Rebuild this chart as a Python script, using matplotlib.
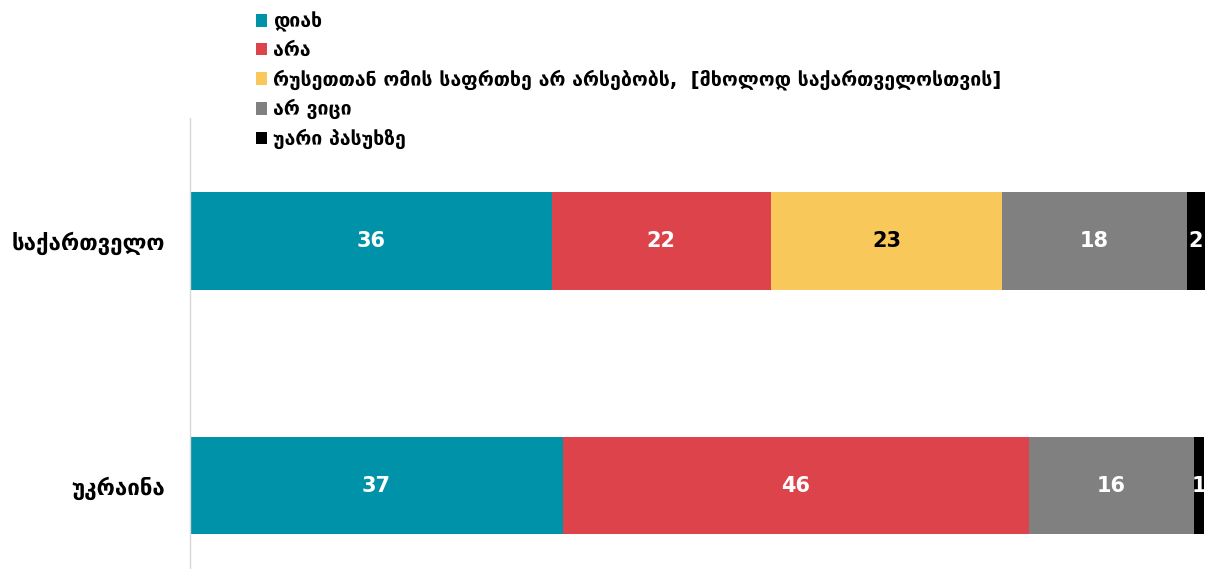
import matplotlib
matplotlib.use("Agg")
import matplotlib.pyplot as plt
import numpy as np

plt.rcParams['font.family'] = ['DejaVu Sans']

categories = ["საქართველო", "უკრაინა"]
series_names = ["დიახ", "არა", "რუსეთთან ომის საფრთხე არ არსებობს,  [მხოლოდ საქართველოსთვის]", "არ ვიცი", "უარი პასუხზე"]
georgia = [36.0, 21.8, 23.0, 18.4, 1.8]
ukraine = [37.1, 46.4, 0.0, 16.4, 1.0]
colors = ["#0092A8", "#DC434B", "#F9C85A", "#808080", "#000000"]
label_colors = ["white", "white", "black", "white", "white"]

values = np.array([georgia, ukraine]).T  # series x categories
ypos = [1, 0]

fig = plt.figure(figsize=(12.06, 5.69), dpi=100)
ax = fig.add_axes([190/1206, 0, (1205-190)/1206, (569-118)/569])

left = np.zeros(2)
handles = []
for i, name in enumerate(series_names):
    vals = values[i]
    bars = ax.barh(ypos, vals, left=left, height=0.4, color=colors[i], label=name)
    handles.append(bars)
    for j, v in enumerate(vals):
        if v > 0:
            ax.text(left[j] + v/2, ypos[j], f"{v:.0f}", ha='center', va='center',
                    color=label_colors[i], fontsize=15, fontweight='bold')
    left += vals

ax.set_xlim(0, 101.0)
ax.set_ylim(-0.341, 1.502)
ax.set_yticks(ypos)
ax.set_yticklabels(categories, fontsize=16, fontweight='bold')
ax.tick_params(axis='y', length=0, pad=18)
ax.set_xticks([])
for s in ['top', 'right', 'bottom']:
    ax.spines[s].set_visible(False)
ax.spines['left'].set_color('#d9d9d9')
ax.spines['left'].set_linewidth(1)

leg = fig.legend(handles=handles, labels=series_names, loc='upper left',
                 bbox_to_anchor=(244/1206, 1.0), frameon=False,
                 handlelength=0.6, handleheight=0.6, handletextpad=0.3,
                 labelspacing=0.47, borderaxespad=0.2,
                 prop={'size': 14, 'weight': 'bold'})

fig.savefig("out.png", dpi=100)
